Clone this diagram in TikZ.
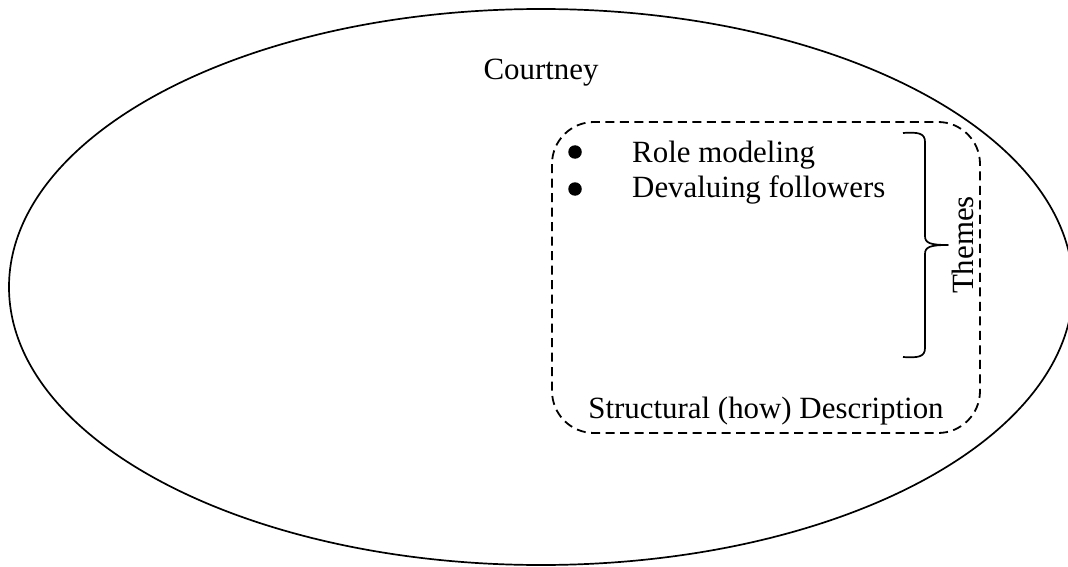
\documentclass[tikz,border=0pt]{standalone}
\usepackage{fontspec}
\setmainfont{Liberation Serif}
\begin{document}
\begin{tikzpicture}[x=1pt,y=-1pt,
  outline/.style={draw=black,line width=1.7pt},
  dashbox/.style={draw=black,line width=1.8pt,dash pattern=on 9pt off 5.5pt,rounded corners=42pt},
  label/.style={font=\fontsize{30.9}{36}\selectfont,inner sep=0pt},
  dot/.style={circle,fill=black,minimum size=13.5pt,inner sep=0pt}]
\useasboundingbox (0,0) rectangle (1068,567);
\clip (0,0) rectangle (1068,567);
% outer participant ellipse
\draw[outline] (541,287) ellipse [x radius=532, y radius=278];
\node[label,anchor=base] (name) at (541,80) {Courtney};
% structural description region
\draw[dashbox] (552,122) rectangle (980,433);
\node[dot] (b1) at (575,152) {};
\node[dot] (b2) at (575,189) {};
\node[label,anchor=base west] (t1) at (632,162) {Role modeling};
\node[label,anchor=base west] (t2) at (632,197) {Devaluing followers};
\node[label,anchor=base] (desc) at (766,418) {Structural (how) Description};
% brace grouping the themes
\draw[line width=1.7pt,line join=round]
  (903,133) .. controls (918,132) and (925,133) .. (925,142)
  -- (925,236) .. controls (925,243) and (930,245) .. (948,245)
  .. controls (930,245) and (925,247) .. (925,254)
  -- (925,348) .. controls (925,357) and (918,358) .. (903,357);
\node[label,rotate=90,anchor=center] (themes) at (963,245) {Themes};
\end{tikzpicture}
\end{document}
